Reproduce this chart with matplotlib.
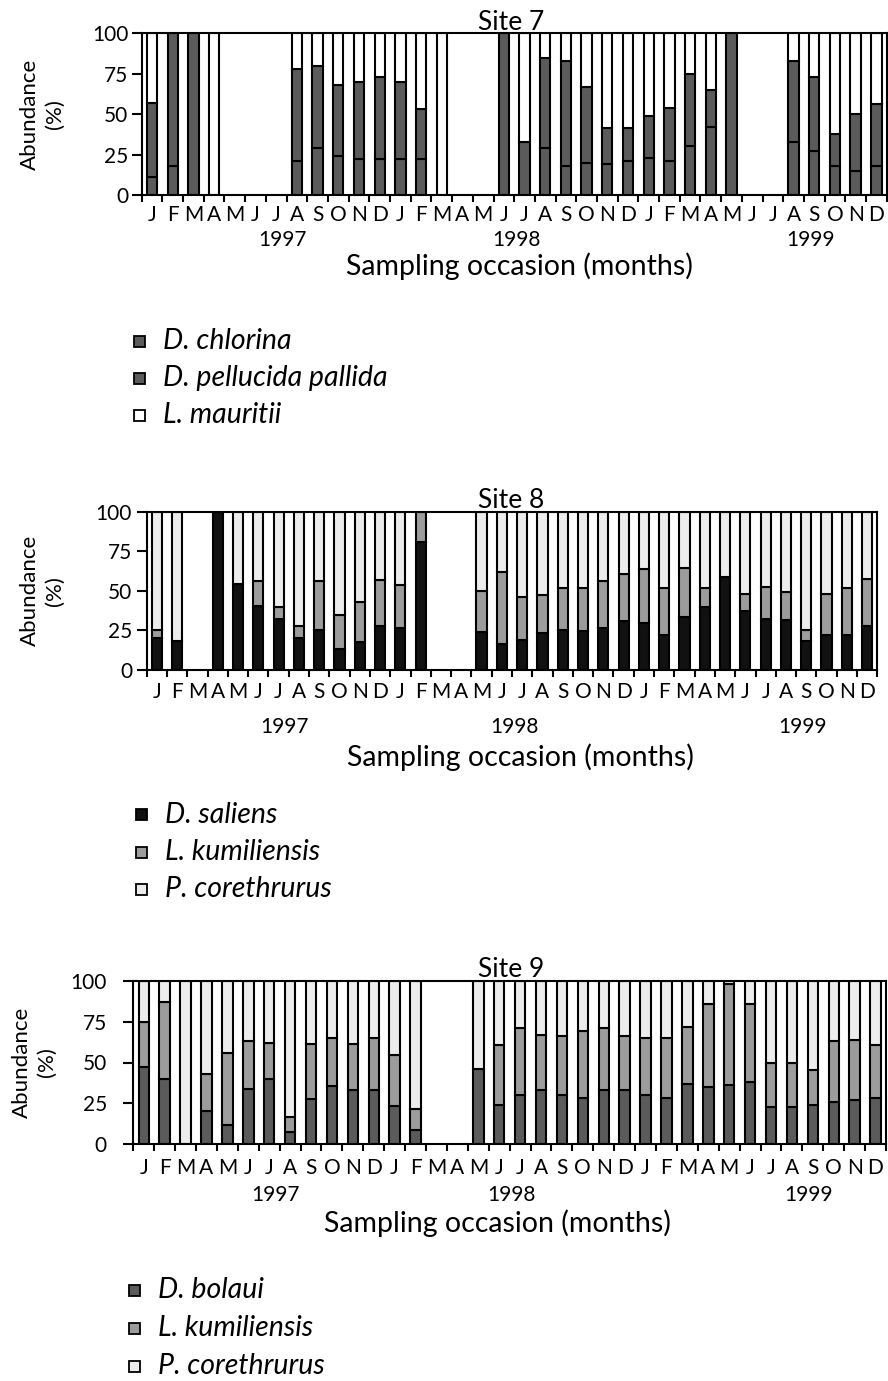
import numpy as np
import matplotlib.pyplot as plt
from matplotlib.patches import Rectangle

plt.rcParams['font.family'] = ['Lato', 'DejaVu Sans']

W, H = 888, 1381

# one sampling occasion per month, Jan 1997 - Dec 1999 (None = no sample)
months = list("JFMAMJJASONDJFMAMJJASONDJFMAMJJASOND")
years = ['1997', '1998', '1999']
N = None

# Site 7 (%)
s7_chlorina = [11, 18, 0, 0, N, N, N, 21, 29, 24, 22, 22, 22, 22, 0, N, N, 0,
               33, 29, 18, 19.5, 19, 21, 23, 21, 30, 42, 0, N, N, 33, 27, 18, 15, 18]
s7_pellucida = [46, 82, 100, 0, N, N, N, 57, 51, 44, 48, 51, 48, 31, 0, N, N, 100,
                0, 56, 65, 47, 22.5, 20.5, 26, 33, 45, 23, 100, N, N, 50, 46, 19.5, 35, 38]
s7_mauritii = [43, 0, 0, 100, N, N, N, 22, 20, 32, 30, 27, 30, 47, 100, N, N, 0,
               67, 15, 17, 33.5, 58.5, 58.5, 51, 46, 25, 35, 0, N, N, 17, 27, 62.5, 50, 44]

# Site 8 (%)
s8_saliens = [20, 18.5, N, 100, 54.5, 40.5, 32.5, 20, 25.5, 13.5, 18, 28, 26.5, 81, N, N,
              24, 16.5, 19, 23.5, 25.5, 24.5, 26.5, 31, 29.5, 22, 33.5, 40, 58.5, 37, 32.5,
              31.5, 18.5, 22, 22, 28]
s8_kumiliensis = [5.5, 0, N, 0, 0, 16, 7, 7.5, 31, 21, 25, 29, 27, 19, N, N,
                  26, 45.5, 27, 24, 26, 27, 30, 29.5, 34.5, 30, 31, 12, 0, 11, 20,
                  18, 6.5, 26, 29.5, 29.5]
s8_corethrurus = [74.5, 81.5, N, 0, 45.5, 43.5, 60.5, 72.5, 43.5, 65.5, 57, 43, 46.5, 0, N, N,
                  50, 38, 54, 52.5, 48.5, 48.5, 43.5, 39.5, 36, 48, 35.5, 48, 41.5, 52, 47.5,
                  50.5, 75, 52, 48.5, 42.5]

# Site 9 (%)
s9_bolaui = [47.5, 40, 0, 20.5, 12, 34, 40, 7.5, 27.5, 35.5, 33, 33, 23.5, 9, N, N,
             46, 24, 30, 33, 30, 28, 33, 33, 30, 28, 37, 35, 36, 38, 23, 23, 24, 26, 27, 28.5]
s9_kumiliensis = [27.5, 47, 0, 22.5, 44, 29, 22, 9, 34, 29.5, 28.5, 32, 31, 12.5, N, N,
                  0, 36.5, 41, 34, 36, 41.5, 38, 33.5, 35, 37, 35, 50.5, 62, 48, 26.5, 26.5,
                  21.5, 37, 37, 32]
s9_corethrurus = [25, 13, 100, 57, 44, 37, 38, 83.5, 38.5, 35, 38.5, 35, 45.5, 78.5, N, N,
                  54, 39.5, 29, 33, 34, 30.5, 29, 33.5, 35, 35, 28, 14.5, 2, 14, 50.5, 50.5,
                  54.5, 37, 36, 39.5]

DARK, MID, LIGHT, BLACK, WHITE = '#5b5b5b', '#9c9c9c', '#ececec', '#111111', '#ffffff'

fig = plt.figure(figsize=(W / 100, H / 100), dpi=100)


def ftext(x, y, s, **kw):
    return fig.text(x / W, 1 - y / H, s, **kw)


def panel(rect, title, series, colours, ylab_x, ypad, month_pad, year_y, xlab_pos):
    l, t, r, b = rect
    ax = fig.add_axes([l / W, 1 - b / H, (r - l) / W, (b - t) / H])
    n = len(months)
    x = np.arange(n) + 0.5
    for i in range(n):
        if series[0][i] is None:
            continue
        bottom = 0
        for vals, c in zip(series, colours):
            if vals[i] > 0:
                ax.bar(x[i], vals[i], 0.5, bottom=bottom, color=c,
                       edgecolor='black', linewidth=1.5)
            bottom += vals[i]
    ax.set_xlim(0, n)
    ax.set_ylim(0, 100)
    ax.set_yticks([0, 25, 50, 75, 100])
    ax.set_xticks(np.arange(n + 1))
    ax.set_xticklabels([])
    ax.set_xticks(x, months, minor=True)
    ax.tick_params(axis='x', which='major', direction='out', length=5, width=1.5)
    ax.tick_params(axis='x', which='minor', length=0, pad=month_pad, labelsize=15)
    ax.tick_params(axis='y', direction='out', length=7, width=1.5, labelsize=15, pad=ypad)
    for s in ax.spines.values():
        s.set_linewidth(1.5)
    ftext(511, t - 11, title, ha='center', va='center', fontsize=19)
    for pos, yr in zip([6.8, 18.1, 32.3], years):
        ftext(l + (r - l) * pos / n, year_y, yr, ha='center', va='center', fontsize=15)
    ftext(xlab_pos[0], xlab_pos[1], 'Sampling occasion (months)', ha='center',
          va='center', fontsize=20.5)
    ym = (t + b) / 2
    ftext(ylab_x, ym, 'Abundance', rotation=90, ha='center', va='center', fontsize=16)
    ftext(ylab_x + 25, ym, '(%)', rotation=90, ha='center', va='center', fontsize=16)
    return ax


def legend(x, ys, names, colours):
    for y, name, c in zip(ys, names, colours):
        fig.add_artist(Rectangle(((x - 5.5) / W, 1 - (y + 5.5) / H), 11 / W, 11 / H,
                                 transform=fig.transFigure, facecolor=c,
                                 edgecolor='black', linewidth=1.3))
        ftext(x + 24, y, name, ha='left', va='center', fontsize=20.5, style='italic')


panel((141.7, 33.3, 886.7, 195), 'Site 7', [s7_chlorina, s7_pellucida, s7_mauritii],
      [DARK, DARK, WHITE], 30, 2.5, 7, 240, (519, 266))
legend(139, [341, 378, 415], ['D. chlorina', 'D. pellucida pallida', 'L. mauritii'],
       [DARK, DARK, WHITE])

panel((146.7, 511.7, 877.3, 670), 'Site 8', [s8_saliens, s8_kumiliensis, s8_corethrurus],
      [BLACK, MID, LIGHT], 30, 3.5, 9, 727, (520, 757))
legend(141, [815, 852, 889], ['D. saliens', 'L. kumiliensis', 'P. corethrurus'],
       [BLACK, MID, LIGHT])

panel((133.3, 980.7, 886, 1144.3), 'Site 9', [s9_bolaui, s9_kumiliensis, s9_corethrurus],
      [DARK, MID, LIGHT], 22, 12, 10, 1195, (497, 1223))
legend(134, [1290, 1328, 1366], ['D. bolaui', 'L. kumiliensis', 'P. corethrurus'],
       [DARK, MID, LIGHT])

fig.savefig('out.png', dpi=100)
